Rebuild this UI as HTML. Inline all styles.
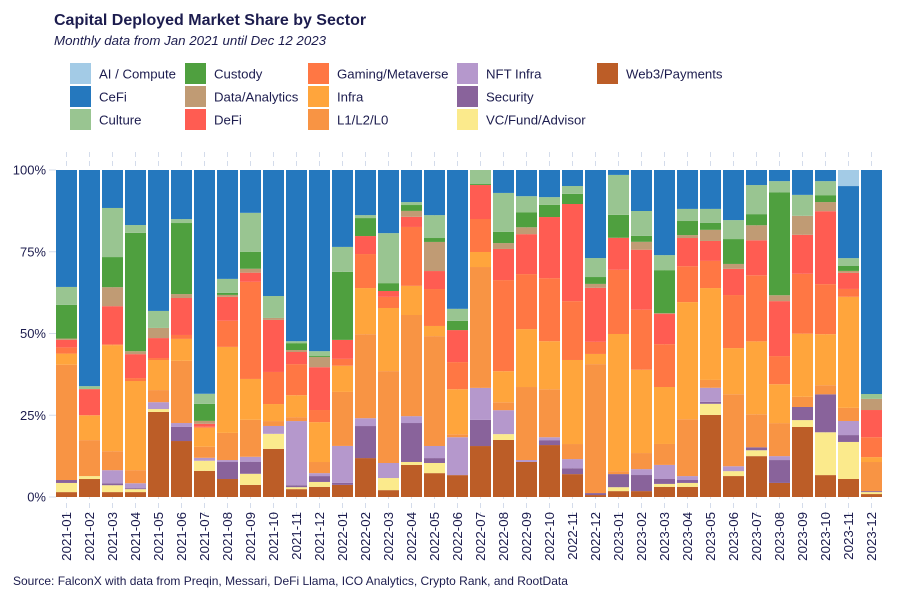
<!DOCTYPE html>
<html><head><meta charset="utf-8"><style>
body{margin:0;background:#fff;}
svg{display:block;font-family:"Liberation Sans",sans-serif;}
</style></head><body>
<svg id="chart" width="900" height="600" viewBox="0 0 900 600">
<rect width="900" height="600" fill="#fff"/>
<text x="54" y="25" font-size="16" font-weight="bold" fill="#1c1c4e">Capital Deployed Market Share by Sector</text>
<text x="54" y="45" font-size="13.3" font-style="italic" fill="#1c1c4e">Monthly data from Jan 2021 until Dec 12 2023</text>
<g id="legend"></g>
<g id="grid"></g>
<g id="bars"></g>
<g id="axes"></g>
<text x="13" y="585" font-size="12" fill="#1c1c4e">Source: FalconX with data from Preqin, Messari, DeFi Llama, ICO Analytics, Crypto Rank, and RootData</text>
</svg>
<script>
const months=["2021-01","2021-02","2021-03","2021-04","2021-05","2021-06","2021-07","2021-08","2021-09","2021-10","2021-11","2021-12","2022-01","2022-02","2022-03","2022-04","2022-05","2022-06","2022-07","2022-08","2022-09","2022-10","2022-11","2022-12","2023-01","2023-02","2023-03","2023-04","2023-05","2023-06","2023-07","2023-08","2023-09","2023-10","2023-11","2023-12"];
const sectors=["Web3/Payments","VC/Fund/Advisor","Security","NFT Infra","L1/L2/L0","Infra","Gaming/Metaverse","DeFi","Data/Analytics","Custody","Culture","CeFi","AI / Compute"];
const web3=[1.5,5.5,1.5,1.5,26.0,17.1,8.0,5.5,3.7,14.7,2.4,3.1,3.7,11.9,2.1,9.8,7.3,6.7,15.6,17.4,10.7,15.9,7.0,0.6,1.8,1.8,3.1,3.1,25.1,6.4,12.5,4.3,21.4,6.7,5.5,0.9];
const vc=[2.8,0.9,2.1,0.9,0.9,0,3.1,0,3.4,4.6,0.6,1.5,0,0,3.7,0.9,3.1,0,0,1.8,0,0,0,0,1.2,0,0.9,1.2,3.4,1.5,1.8,0,2.1,13.1,11.3,0.6];
const security=[0.9,0,0.6,0.3,0,4.3,0,5.2,3.7,0,0.6,1.8,0.6,9.8,0,11.9,1.5,0,8.0,0,0,1.5,1.8,0.6,4.0,4.9,1.5,0.9,0.6,0,0.9,7.0,4.0,11.6,2.1,0.3];
const nft=[0,0,4.0,1.5,2.1,1.2,0.9,0.6,1.5,2.4,19.6,0.9,11.3,2.4,4.6,2.1,3.7,11.6,9.8,7.3,0.6,0.9,2.8,0,0,1.8,4.3,1.2,4.3,1.5,0,1.2,0,0,4.3,0];
const l1=[35.3,11.0,5.8,4.0,3.7,19.0,3.4,8.3,11.3,1.5,1.2,3.4,16.5,25.7,28.1,30.9,33.6,0.9,37.0,2.4,22.3,14.7,4.6,39.4,0.9,4.9,6.4,17.4,2.4,22.0,10.1,10.1,3.1,2.8,4.0,8.9];
const infra=[3.4,7.6,32.4,27.2,9.2,6.7,5.8,26.3,12.5,5.2,6.7,12.2,8.0,14.1,19.3,8.9,3.1,13.8,4.6,9.5,17.7,14.7,25.7,3.1,41.9,25.4,17.4,35.8,28.1,14.1,22.3,11.9,19.3,15.6,33.9,1.5];
const gaming=[1.9,0,0.3,0.9,0.6,1.2,0.3,8.0,29.7,9.8,9.5,3.7,2.1,10.4,3.4,18.0,11.3,8.3,10.1,27.8,16.8,19.3,18.0,3.7,19.6,18.3,13.1,11.0,8.3,16.2,20.2,8.6,18.3,15.3,2.4,6.1];
const defi=[2.3,8.0,11.6,7.3,6.1,11.3,0.9,7.3,2.8,15.9,3.7,13.1,5.8,5.5,1.8,3.1,5.5,9.8,10.4,9.5,12.2,18.7,29.7,16.5,9.8,18.3,9.2,8.6,6.1,8.0,10.7,16.8,11.9,22.3,4.9,8.3];
const dataAnalytics=[0.4,0,5.8,0.9,3.1,1.2,0.9,0.6,1.2,0.6,0.6,3.1,0,0,0,1.8,8.9,0,0,1.8,2.1,0,0,1.2,0,2.4,0.3,0.9,3.4,1.5,4.6,1.8,5.8,2.8,0.6,3.4];
const custody=[10.3,0,9.2,36.1,0,21.7,5.2,0.6,5.2,0,2.1,0.3,20.8,5.5,2.4,1.8,1.2,2.8,0.3,3.4,4.6,3.7,3.1,2.1,7.0,1.8,13.1,4.3,2.1,7.6,3.4,31.5,0,2.1,1.5,0];
const culture=[5.5,0.9,15.0,2.4,5.2,1.2,3.1,4.3,11.9,6.7,0.6,1.5,7.6,0.9,15.3,0.9,7.0,3.7,4.3,11.9,4.9,2.4,2.4,5.8,12.2,7.6,4.6,3.7,4.3,5.8,8.9,3.4,6.4,4.3,2.4,1.5];
const cefi=[35.8,66.1,11.6,16.8,43.1,15.0,68.5,33.3,13.1,38.5,52.3,55.4,23.5,13.8,19.3,9.8,13.8,42.5,0,7.0,8.0,8.3,4.9,26.9,1.5,12.5,26.0,11.9,11.9,15.3,4.6,3.4,7.6,3.4,22.0,68.5];
const ai=[0,0,0,0,0,0,0,0,0,0,0,0,0,0,0,0,0,0,0,0,0,0,0,0,0,0,0,0,0,0,0,0,0,0,4.9,0];
const series=[web3,vc,security,nft,l1,infra,gaming,defi,dataAnalytics,custody,culture,cefi,ai];
const colors=["#bc5d27","#fbea8c","#89639b","#b598cc","#f89444","#ffa53c","#ff7744","#ff5c52","#c09b74","#4fa03f","#99c591","#2578be","#a3cbe6"];
const yTicks=[0,25,50,75,100];
const NS="http://www.w3.org/2000/svg";
function mk(t,a,p){const e=document.createElementNS(NS,t);for(const k in a)e.setAttribute(k,a[k]);p.appendChild(e);return e;}
const x0=56,step=23,bw=21,yTop=170,yBot=497;
function xPos(i){return x0+step*i;}
function yPos(v){return yBot-(yBot-yTop)*v/100;}
const grid=document.getElementById('grid'),bars=document.getElementById('bars'),axes=document.getElementById('axes'),legend=document.getElementById('legend');
months.forEach((m,i)=>{
  const cx=xPos(i)+bw/2;
  const gl=mk('line',{x1:cx,x2:cx,y1:152,y2:516,stroke:"#d4dceb","stroke-width":1,"stroke-dasharray":"5,4"},grid);
  
  
  const t=mk('text',{transform:`translate(${cx+4.5},512) rotate(-90)`,"text-anchor":"end","font-size":13.3,fill:"#1c1c4e"},axes);
  t.textContent=m;
  
  
});
yTicks.forEach(v=>{
  const y=yPos(v);
  const tl=mk('line',{x1:49,x2:56,y1:y,y2:y,stroke:"#d4dceb","stroke-width":1},grid);
  
  
  const t=mk('text',{x:46,y:y+4.5,"text-anchor":"end","font-size":13,fill:"#1c1c4e"},axes);
  t.textContent=v+"%";
  
  
});
months.forEach((m,i)=>{
  let cum=0;
  const tot=series.reduce((s,a)=>s+a[i],0)||1;
  series.forEach((arr,si)=>{
    const v=arr[i]/tot*100;if(v<=0)return;
    const y1=yPos(cum+v),y2=yPos(cum);cum+=v;
    const r=mk('rect',{x:xPos(i),y:y1,width:bw,height:Math.max(0,y2-y1),fill:colors[si]},bars);
    
    
  });
});
const legOrder=[12,11,10,9,8,7,6,5,4,3,2,1,0];
const colX=[70,185,308,457,597];
legOrder.forEach((si,k)=>{
  const c=Math.floor(k/3),r=k%3;
  const x=colX[c],y=63+r*23;
  const g=mk('g',{},legend);
  
  
  mk('rect',{x:x,y:y,width:21,height:21,fill:colors[si]},g);
  const t=mk('text',{x:x+29,y:y+15.5,"font-size":13.2,fill:"#1c1c4e"},g);
  t.textContent=sectors[si];
});
</script>
</body></html>
